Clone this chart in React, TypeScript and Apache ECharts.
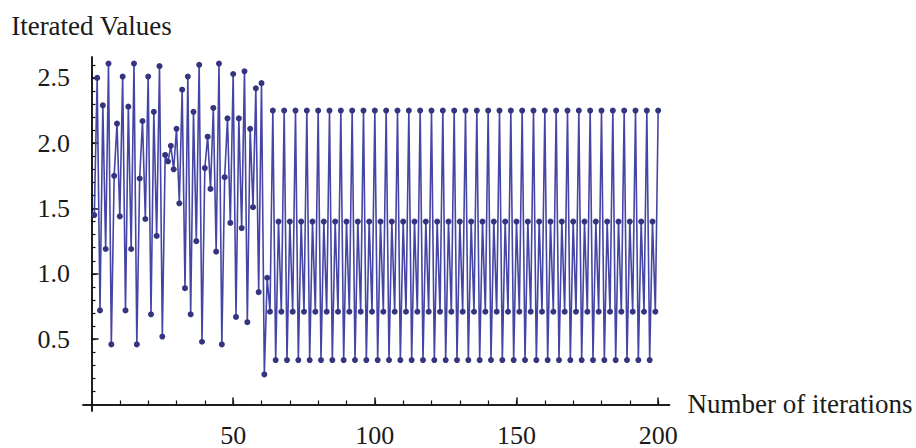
import React, { useEffect, useRef } from "react";
import * as echarts from "echarts";

// Iterations 1..63 (transient)
const transientValues = [
  1.45, 2.5, 0.72, 2.29, 1.19, 2.61, 0.46, 1.75, 2.15, 1.44,
  2.51, 0.72, 2.28, 1.19, 2.61, 0.46, 1.73, 2.17, 1.42, 2.51,
  0.69, 2.24, 1.29, 2.59, 0.52, 1.91, 1.86, 1.98, 1.8, 2.11,
  1.54, 2.41, 0.89, 2.51, 0.69, 2.24, 1.25, 2.6, 0.48, 1.81,
  2.05, 1.65, 2.27, 1.17, 2.61, 0.46, 1.74, 2.19, 1.39, 2.53,
  0.67, 2.19, 1.35, 2.55, 0.63, 2.11, 1.51, 2.42, 0.86, 2.46,
  0.23, 0.97, 0.71,
];

// Iterations 64..200 (settled 4-cycle)
const settledValues = [
  2.25, 0.34, 1.4, 0.71, 2.25, 0.34, 1.4, 0.71, 2.25, 0.34, 1.4, 0.71,
  2.25, 0.34, 1.4, 0.71, 2.25, 0.34, 1.4, 0.71, 2.25, 0.34, 1.4, 0.71,
  2.25, 0.34, 1.4, 0.71, 2.25, 0.34, 1.4, 0.71, 2.25, 0.34, 1.4, 0.71,
  2.25, 0.34, 1.4, 0.71, 2.25, 0.34, 1.4, 0.71, 2.25, 0.34, 1.4, 0.71,
  2.25, 0.34, 1.4, 0.71, 2.25, 0.34, 1.4, 0.71, 2.25, 0.34, 1.4, 0.71,
  2.25, 0.34, 1.4, 0.71, 2.25, 0.34, 1.4, 0.71, 2.25, 0.34, 1.4, 0.71,
  2.25, 0.34, 1.4, 0.71, 2.25, 0.34, 1.4, 0.71, 2.25, 0.34, 1.4, 0.71,
  2.25, 0.34, 1.4, 0.71, 2.25, 0.34, 1.4, 0.71, 2.25, 0.34, 1.4, 0.71,
  2.25, 0.34, 1.4, 0.71, 2.25, 0.34, 1.4, 0.71, 2.25, 0.34, 1.4, 0.71,
  2.25, 0.34, 1.4, 0.71, 2.25, 0.34, 1.4, 0.71, 2.25, 0.34, 1.4, 0.71,
  2.25, 0.34, 1.4, 0.71, 2.25, 0.34, 1.4, 0.71, 2.25, 0.34, 1.4, 0.71,
  2.25, 0.34, 1.4, 0.71, 2.25,
];

const xMajorTicks = [50, 100, 150, 200];
const xMinorTicks = [10, 20, 30, 40, 50, 60, 70, 80, 90, 100, 110, 120, 130, 140, 150, 160, 170, 180, 190, 200];
const yMajorTicks = [0.5, 1.0, 1.5, 2.0, 2.5];
const yMinorTicks = [
  0.1, 0.2, 0.3, 0.4, 0.5, 0.6, 0.7, 0.8, 0.9, 1.0, 1.1, 1.2, 1.3,
  1.4, 1.5, 1.6, 1.7, 1.8, 1.9, 2.0, 2.1, 2.2, 2.3, 2.4, 2.5, 2.6,
];

const xAxisName = "Number of iterations";
const yAxisName = "Iterated Values";

export default function App() {
  const ref = useRef<HTMLDivElement>(null);

  useEffect(() => {
    if (!ref.current) return;
    const chart = echarts.init(ref.current, undefined, { renderer: "svg" });
    const allValues = transientValues.concat(settledValues);
    const data = allValues.map((v, i) => [i + 1, v]);

    const font = "Liberation Serif";
    const textColor = "#1a1a1a";
    const axisColor = "#111";
    const tickFs = 26;
    const nameFs = 27;

    chart.setOption({
      animation: false,
      backgroundColor: "#ffffff",
      grid: { left: 83, right: 246.5, top: 57, bottom: 28.3 },
      xAxis: [
        {
          type: "value",
          min: -3,
          max: 204,
          position: "bottom",
          axisLine: { show: true, onZero: true, onZeroAxisIndex: 0, lineStyle: { color: axisColor, width: 1.5 } },
          axisTick: { show: true, inside: true, length: 7, customValues: xMajorTicks, lineStyle: { color: axisColor, width: 1.5 } },
          axisLabel: { show: true, customValues: xMajorTicks, fontFamily: font, fontSize: tickFs, color: textColor, margin: 11 },
          splitLine: { show: false },
          name: xAxisName,
          nameLocation: "end",
          nameGap: 18,
          nameTextStyle: { fontFamily: font, fontSize: nameFs, color: textColor },
        },
        {
          type: "value",
          min: -3,
          max: 204,
          position: "bottom",
          axisLine: { show: true, onZero: true, onZeroAxisIndex: 0, lineStyle: { color: axisColor, width: 1.5 } },
          axisTick: { show: true, inside: true, length: 4, customValues: xMinorTicks, lineStyle: { color: axisColor, width: 1.2 } },
          axisLabel: { show: false },
          splitLine: { show: false },
        },
      ],
      yAxis: [
        {
          type: "value",
          min: -0.05,
          max: 2.66,
          position: "left",
          axisLine: { show: true, onZero: true, onZeroAxisIndex: 0, lineStyle: { color: axisColor, width: 1.5 } },
          axisTick: { show: true, inside: true, length: 7, customValues: yMajorTicks, lineStyle: { color: axisColor, width: 1.5 } },
          axisLabel: {
            show: true,
            customValues: yMajorTicks,
            formatter: (v: number) => v.toFixed(1),
            fontFamily: font,
            fontSize: tickFs,
            color: textColor,
            margin: 13,
          },
          splitLine: { show: false },
          name: yAxisName,
          nameLocation: "end",
          nameGap: 18,
          nameTextStyle: { fontFamily: font, fontSize: nameFs, color: textColor },
        },
        {
          type: "value",
          min: -0.05,
          max: 2.66,
          position: "left",
          axisLine: { show: true, onZero: true, onZeroAxisIndex: 0, lineStyle: { color: axisColor, width: 1.5 } },
          axisTick: { show: true, inside: true, length: 4, customValues: yMinorTicks, lineStyle: { color: axisColor, width: 1.2 } },
          axisLabel: { show: false },
          splitLine: { show: false },
        },
      ],
      series: [
        {
          type: "line",
          xAxisIndex: 0,
          yAxisIndex: 0,
          data,
          symbol: "circle",
          symbolSize: 6,
          showSymbol: true,
          clip: false,
          lineStyle: { color: "#4545a6", width: 1.6 },
          itemStyle: { color: "#35357f" },
        },
      ],
    });

    return () => chart.dispose();
  }, []);

  return (
    <div
      ref={ref}
      style={{ position: "fixed", left: 0, top: 0, width: 916, height: 448, background: "#fff" }}
    />
  );
}
